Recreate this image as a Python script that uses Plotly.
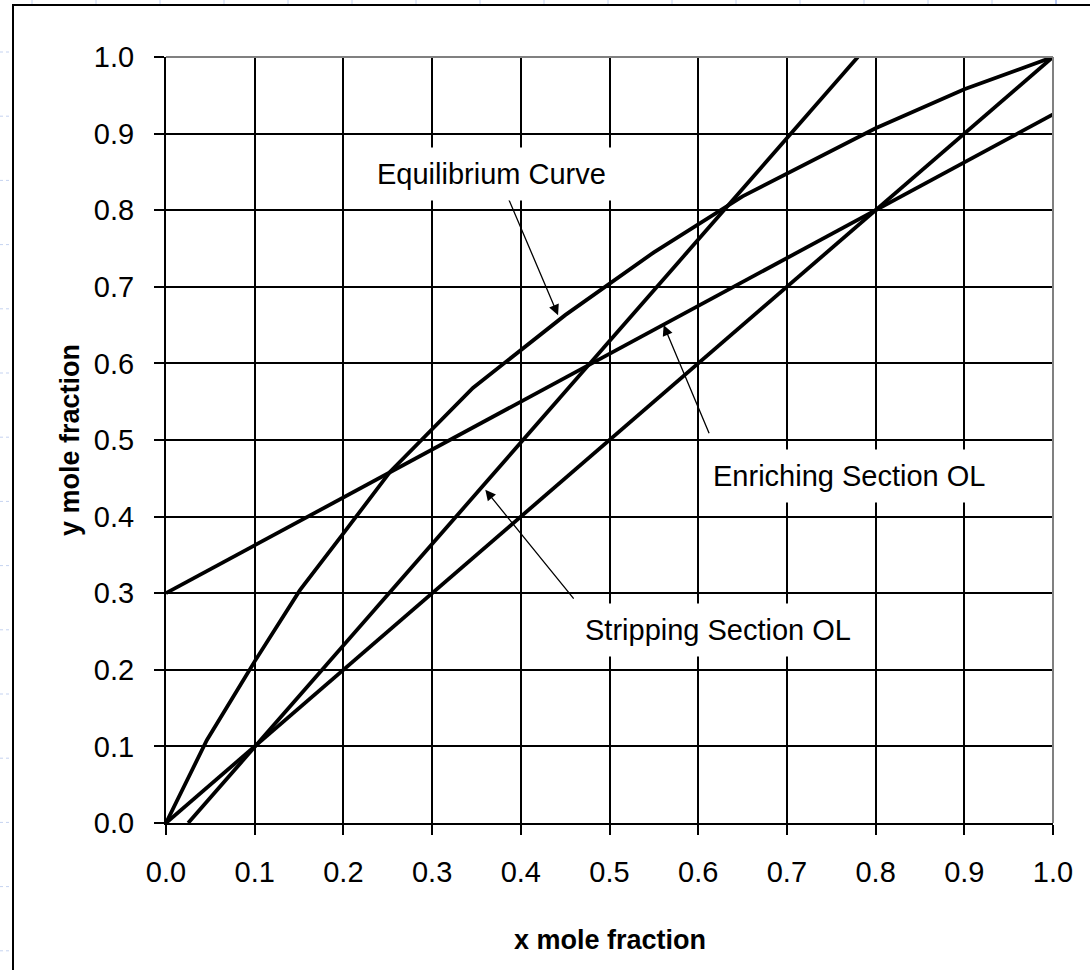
import plotly.graph_objects as go

# ---------------- data ----------------
eq_x = [0.0, 0.046, 0.10, 0.151, 0.20, 0.253, 0.346, 0.45, 0.55, 0.65, 0.80, 0.90, 1.0]
eq_y = [0.0, 0.108, 0.211, 0.304, 0.378, 0.459, 0.568, 0.663, 0.745, 0.818, 0.907, 0.958, 1.0]

diag_x = [0.0, 1.0]
diag_y = [0.0, 1.0]

enr_x = [0.0, 1.0]
enr_y = [0.30, 0.925]

strip_x = [0.025, 0.78]
strip_y = [0.0, 1.0]

tick_vals = [0.0, 0.1, 0.2, 0.3, 0.4, 0.5, 0.6, 0.7, 0.8, 0.9, 1.0]
tick_text = ["0.0", "0.1", "0.2", "0.3", "0.4", "0.5", "0.6", "0.7", "0.8", "0.9", "1.0"]

# label text / position (data coords) and arrow tail -> head
labels = [
    ("Equilibrium Curve", 0.3675, 0.847),
    ("Enriching Section OL", 0.770, 0.453),
    ("Stripping Section OL", 0.622, 0.252),
]
arrows = [
    (0.385, 0.818, 0.442, 0.663),
    (0.613, 0.507, 0.561, 0.650),
    (0.461, 0.291, 0.360, 0.435),
]

FONT = "Arial, 'Liberation Sans', sans-serif"
W, H = 1090, 970
L, R, T, B = 166, 37, 57, 147
PW, PH = W - L - R, H - T - B

def px_x(px):
    return (px - L) / PW

def px_y(py):
    return (H - B - py) / PH

fig = go.Figure()
line_style = dict(color="black", width=3.8)
fig.add_trace(go.Scatter(x=diag_x, y=diag_y, mode="lines", line=line_style, showlegend=False, hoverinfo="skip"))
fig.add_trace(go.Scatter(x=eq_x, y=eq_y, mode="lines", line=line_style, showlegend=False, hoverinfo="skip"))
fig.add_trace(go.Scatter(x=enr_x, y=enr_y, mode="lines", line=line_style, showlegend=False, hoverinfo="skip"))
fig.add_trace(go.Scatter(x=strip_x, y=strip_y, mode="lines", line=line_style, showlegend=False, hoverinfo="skip"))

annotations = []
for (x0, y0, x1, y1) in arrows:
    annotations.append(dict(
        x=x1, y=y1, ax=x0, ay=y0, xref="x", yref="y", axref="x", ayref="y",
        text="", showarrow=True, arrowhead=2, arrowsize=1.6, arrowwidth=1.3,
        arrowcolor="black", standoff=0, startstandoff=0,
    ))
for (t, x, y) in labels:
    annotations.append(dict(
        x=x, y=y, xref="x", yref="y", text=t, showarrow=False,
        font=dict(family=FONT, size=29, color="black"),
        bgcolor="white", borderpad=10, xanchor="center", yanchor="middle",
    ))
# axis titles
annotations.append(dict(
    x=0.5, y=px_y(940), xref="paper", yref="paper", text="<b>x mole fraction</b>",
    showarrow=False, font=dict(family=FONT, size=27, color="black"),
    xanchor="center", yanchor="middle",
))
annotations.append(dict(
    x=px_x(70), y=0.5, xref="paper", yref="paper", text="<b>y mole fraction</b>",
    showarrow=False, textangle=-90, font=dict(family=FONT, size=27, color="black"),
    xanchor="center", yanchor="middle",
))

shapes = []
# plot area border (top / right, grey)
shapes.append(dict(type="line", xref="paper", yref="paper", x0=0, x1=1, y0=1, y1=1,
                   line=dict(color="#808080", width=2), layer="above"))
shapes.append(dict(type="line", xref="paper", yref="paper", x0=1, x1=1, y0=0, y1=1,
                   line=dict(color="#808080", width=2), layer="above"))
# spreadsheet cell gridlines visible outside the chart frame
for k in range(15):
    py = 52 + 64.2 * k
    shapes.append(dict(type="line", xref="paper", yref="paper",
                       x0=px_x(0), x1=px_x(12), y0=px_y(py), y1=px_y(py),
                       line=dict(color="#c5d3f0", width=1, dash="dot"), layer="below"))
for k in range(17):
    pxv = 32 + 64 * k
    shapes.append(dict(type="line", xref="paper", yref="paper",
                       x0=px_x(pxv), x1=px_x(pxv), y0=px_y(0), y1=px_y(4),
                       line=dict(color="#c5d3f0" if k < 16 else "#6d8fe8", width=1), layer="below"))
# chart frame (left & top visible)
shapes.append(dict(type="rect", xref="paper", yref="paper",
                   x0=px_x(13), x1=px_x(1110), y0=px_y(990), y1=px_y(5),
                   line=dict(color="black", width=2), fillcolor="rgba(0,0,0,0)", layer="below"))

axis_common = dict(
    range=[0, 1], tickmode="array", tickvals=tick_vals, ticktext=tick_text,
    showgrid=True, gridcolor="black", gridwidth=1.6,
    showline=True, linecolor="black", linewidth=2,
    ticks="outside", ticklen=10, tickwidth=2, tickcolor="black",
    tickfont=dict(family=FONT, size=29, color="black"),
    zeroline=False, fixedrange=True,
)
fig.update_xaxes(**axis_common, ticklabelstandoff=12)
fig.update_yaxes(**axis_common, ticklabelstandoff=14)

fig.update_layout(
    width=W, height=H,
    margin=dict(l=L, r=R, t=T, b=B, pad=0),
    paper_bgcolor="white", plot_bgcolor="white",
    showlegend=False,
    annotations=annotations, shapes=shapes,
)

fig.write_html("out.html", config={"displayModeBar": False},
               post_script="document.body.style.margin='0';document.body.style.overflow='hidden';")
